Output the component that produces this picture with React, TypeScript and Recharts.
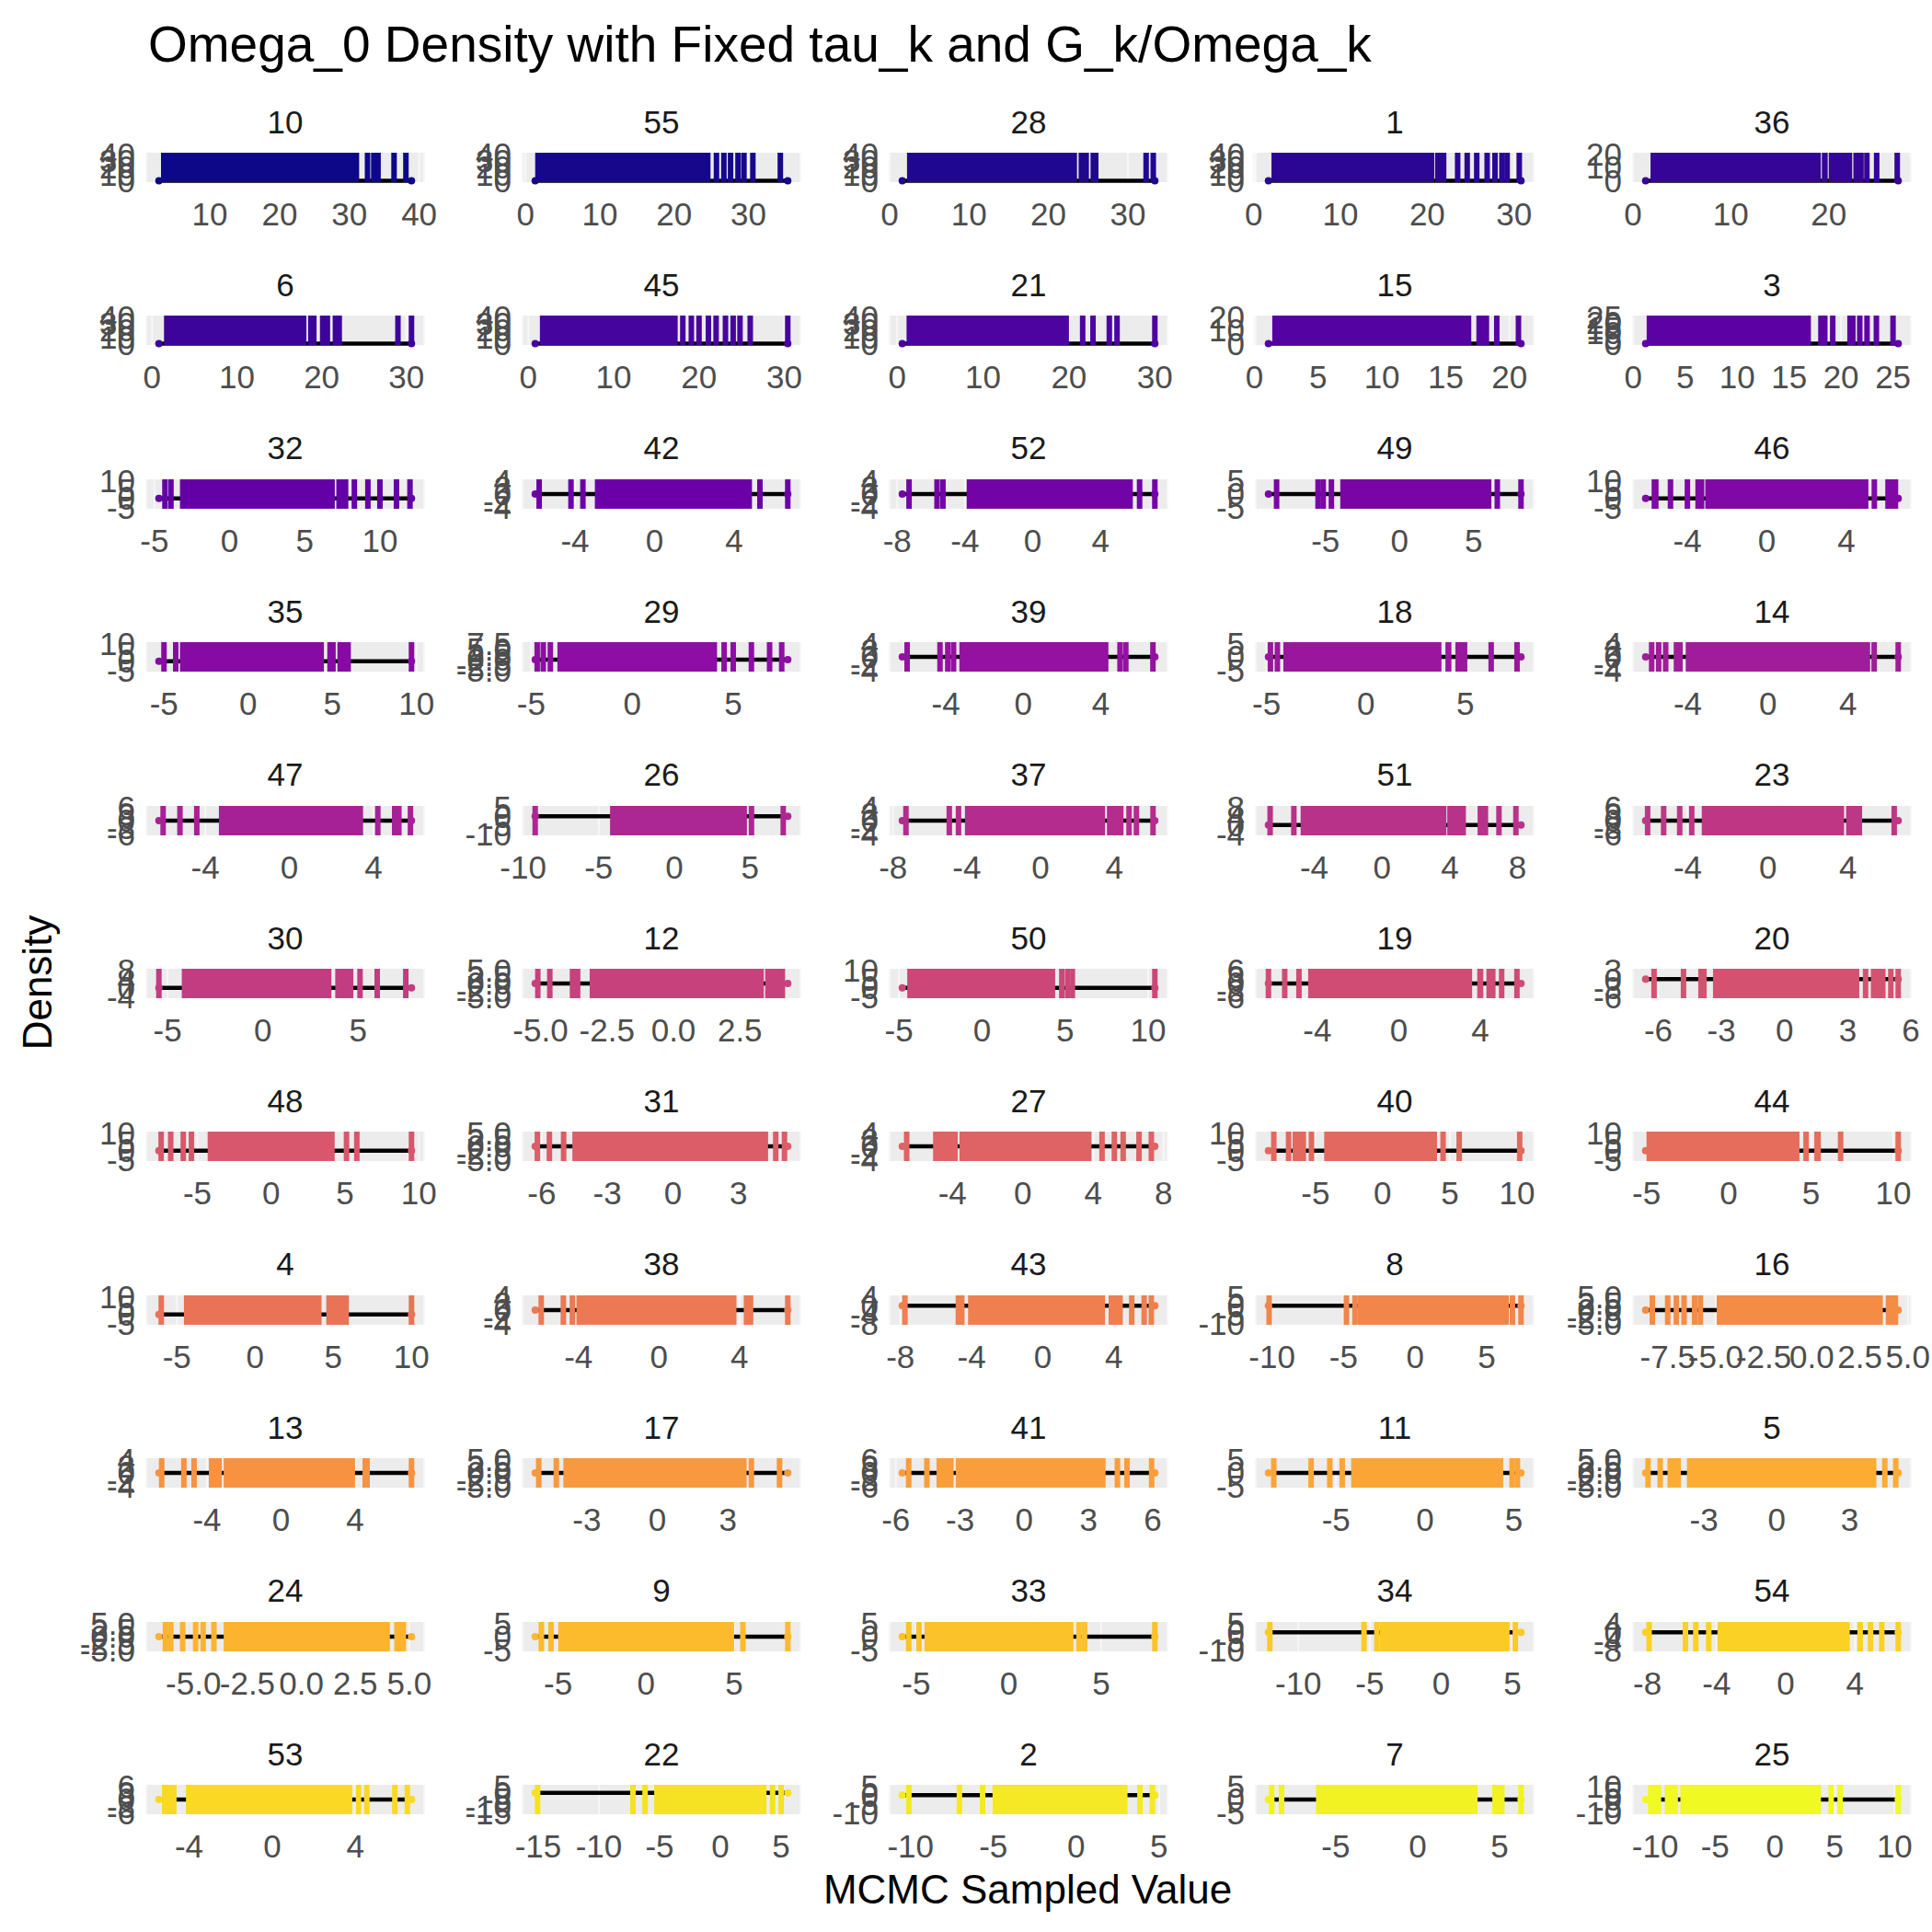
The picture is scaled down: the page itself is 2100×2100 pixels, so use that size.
import React from 'react'
import {
  ComposedChart,
  XAxis,
  YAxis,
  CartesianGrid,
  ReferenceArea,
  ReferenceLine,
  ReferenceDot,
} from 'recharts'

// facet labels, row by row (5 per row)
const facetIds = [
  10, 55, 28, 1, 36,
  6, 45, 21, 15, 3,
  32, 42, 52, 49, 46,
  35, 29, 39, 18, 14,
  47, 26, 37, 51, 23,
  30, 12, 50, 19, 20,
  48, 31, 27, 40, 44,
  4, 38, 43, 8, 16,
  13, 17, 41, 11, 5,
  24, 9, 33, 34, 54,
  53, 22, 2, 7, 25,
]

// x tick labels of each facet
const xTicks: number[][] = [
  [10, 20, 30, 40], [0, 10, 20, 30], [0, 10, 20, 30], [0, 10, 20, 30], [0, 10, 20],
  [0, 10, 20, 30], [0, 10, 20, 30], [0, 10, 20, 30], [0, 5, 10, 15, 20], [0, 5, 10, 15, 20, 25],
  [-5, 0, 5, 10], [-4, 0, 4], [-8, -4, 0, 4], [-5, 0, 5], [-4, 0, 4],
  [-5, 0, 5, 10], [-5, 0, 5], [-4, 0, 4], [-5, 0, 5], [-4, 0, 4],
  [-4, 0, 4], [-10, -5, 0, 5], [-8, -4, 0, 4], [-4, 0, 4, 8], [-4, 0, 4],
  [-5, 0, 5], [-5, -2.5, 0, 2.5], [-5, 0, 5, 10], [-4, 0, 4], [-6, -3, 0, 3, 6],
  [-5, 0, 5, 10], [-6, -3, 0, 3], [-4, 0, 4, 8], [-5, 0, 5, 10], [-5, 0, 5, 10],
  [-5, 0, 5, 10], [-4, 0, 4], [-8, -4, 0, 4], [-10, -5, 0, 5], [-7.5, -5, -2.5, 0, 2.5, 5],
  [-4, 0, 4], [-3, 0, 3], [-6, -3, 0, 3, 6], [-5, 0, 5], [-3, 0, 3],
  [-5, -2.5, 0, 2.5, 5], [-5, 0, 5], [-5, 0, 5], [-10, -5, 0, 5], [-8, -4, 0, 4],
  [-4, 0, 4], [-15, -10, -5, 0, 5], [-10, -5, 0, 5], [-5, 0, 5], [-10, -5, 0, 5, 10],
]

// y tick labels (density axis, squeezed)
const yTicks: number[][] = [
  [0, 10, 20, 30, 40], [0, 10, 20, 30, 40], [0, 10, 20, 30, 40], [0, 10, 20, 30, 40], [0, 10, 20],
  [0, 10, 20, 30, 40], [0, 10, 20, 30, 40], [0, 10, 20, 30, 40], [0, 10, 20], [0, 5, 10, 15, 20, 25],
  [-5, 0, 5, 10], [-4, -2, 0, 2, 4], [-4, -2, 0, 2, 4], [-5, 0, 5], [-5, 0, 5, 10],
  [-5, 0, 5, 10], [-5, -2.5, 0, 2.5, 5, 7.5], [-4, -2, 0, 2, 4], [-5, 0, 5], [-4, -2, 0, 2, 4],
  [-6, -3, 0, 3, 6], [-10, -5, 0, 5], [-4, -2, 0, 2, 4], [-4, 0, 4, 8], [-6, -3, 0, 3, 6],
  [-4, 0, 4, 8], [-5, -2.5, 0, 2.5, 5], [-5, 0, 5, 10], [-6, -3, 0, 3, 6], [-6, -3, 0, 3],
  [-5, 0, 5, 10], [-5, -2.5, 0, 2.5, 5], [-4, -2, 0, 2, 4], [-5, 0, 5, 10], [-5, 0, 5, 10],
  [-5, 0, 5, 10], [-4, -2, 0, 2, 4], [-8, -4, 0, 4], [-10, -5, 0, 5], [-5, -2.5, 0, 2.5, 5],
  [-4, -2, 0, 2, 4], [-5, -2.5, 0, 2.5, 5], [-6, -3, 0, 3, 6], [-5, 0, 5], [-5, -2.5, 0, 2.5, 5],
  [-5, -2.5, 0, 2.5, 5], [-5, 0, 5], [-5, 0, 5], [-10, -5, 0, 5], [-8, -4, 0, 4],
  [-6, -3, 0, 3, 6], [-15, -10, -5, 0, 5], [-10, -5, 0, 5], [-5, 0, 5], [-10, -5, 0, 5, 10],
]

// min / max sample of each facet (ends of the density line)
const spans: [number, number][] = [
  [2.7, 38.9], [1.3, 35.3], [1.6, 33.4], [1.7, 30.8], [1.3, 27.1],
  [0.8, 30.6], [0.8, 30.4], [0.6, 30.0], [1.1, 20.9], [1.2, 25.5],
  [-4.7, 12.1], [-6.0, 6.7], [-7.7, 7.2], [-8.85, 8.2], [-6.1, 6.6],
  [-5.3, 9.7], [-4.8, 7.7], [-6.25, 6.8], [-4.9, 7.8], [-6.1, 6.5],
  [-6.2, 5.8], [-9.2, 7.5], [-7.5, 6.2], [-6.7, 8.2], [-6.1, 6.5],
  [-5.45, 7.8], [-5.2, 4.3], [-4.8, 10.4], [-6.4, 6.0], [-6.6, 5.4],
  [-7.6, 9.5], [-6.3, 5.25], [-6.85, 7.5], [-8.5, 10.3], [-5.05, 10.3],
  [-6.15, 10.0], [-6.15, 6.4], [-7.9, 6.3], [-10.25, 7.4], [-8.65, 4.5],
  [-6.6, 7.05], [-5.2, 5.55], [-5.7, 6.1], [-8.8, 5.4], [-5.4, 5.0],
  [-6.6, 5.1], [-6.3, 8.05], [-5.75, 7.9], [-12.1, 5.6], [-8.1, 6.5],
  [-5.45, 6.7], [-15.25, 5.55], [-10.5, 4.75], [-9.1, 6.3], [-10.8, 10.3],
]

// dense stretches of the rug, where the ticks merge into one band
const blocks: [number, number][][] = [
  [[3.0, 31.4], [33.1, 34.5]], [[1.3, 24.9]], [[2.2, 23.6], [23.8, 25.1], [25.3, 26.3]], [[2.05, 20.8], [20.9, 22.2]], [[1.8, 19.2], [19.3, 19.9], [20.0, 22.4]],
  [[1.4, 18.2], [18.4, 19.4], [19.8, 21.0], [21.3, 22.4]], [[1.35, 17.5]], [[1.1, 20.0]], [[1.4, 17.0], [17.4, 18.4]], [[1.3, 17.1], [17.8, 18.7], [20.6, 21.4]],
  [[-3.3, 7.0], [7.1, 7.9]], [[-3.0, 4.9]], [[-3.9, 5.9]], [[-4.0, 6.2]], [[-5.8, -5.45], [-3.6, -3.15], [-3.1, 5.1], [5.95, 6.6]],
  [[-4.05, 4.5], [4.7, 5.2], [5.3, 6.1]], [[-3.7, 4.2]], [[-3.3, 4.4]], [[-4.15, 3.8], [4.0, 4.3], [4.5, 5.1]], [[-4.7, -4.25], [-4.1, 5.1]],
  [[-3.35, 3.5]], [[-4.25, 4.8]], [[-4.1, 3.5], [3.6, 4.5]], [[-4.8, 3.8], [3.85, 4.95]], [[-3.3, 3.8], [3.9, 4.7]],
  [[-4.25, 3.6], [3.8, 4.75]], [[-3.9, -3.5], [-3.15, 3.4], [3.45, 4.2]], [[-4.5, 4.4], [5.3, 5.6]], [[-4.45, 3.6], [3.85, 4.15], [4.3, 4.75]], [[-4.1, -3.7], [-3.4, 3.55], [4.1, 4.8]],
  [[-4.3, 4.3]], [[-4.6, 4.35]], [[-5.1, -3.7], [-3.6, 3.9]], [[-6.7, -5.7], [-4.35, 4.05]], [[-5.0, 4.3], [5.2, 5.6]],
  [[-4.55, 4.25], [4.55, 6.0]], [[-4.1, 3.85]], [[-4.9, -4.4], [-4.2, 3.5], [3.7, 4.5]], [[-4.0, 6.55]], [[-4.95, 3.7], [3.85, 4.5]],
  [[-3.9, -3.2], [-3.1, 4.0], [4.4, 4.8]], [[-4.0, 3.8]], [[-4.1, -3.3], [-3.2, 3.8]], [[-4.15, 4.4]], [[-4.5, -3.95], [-3.7, 4.1]],
  [[-3.6, 4.1], [4.3, 4.85]], [[-5.0, 5.0]], [[-4.55, 3.5]], [[-4.3, 4.8]], [[-3.95, 3.7]],
  [[-5.3, -4.6], [-4.15, 3.85]], [[-5.45, 3.8]], [[-5.05, 3.1]], [[-6.2, 3.65], [4.55, 5.3]], [[-10.6, -9.5], [-9.2, -8.1], [-7.9, 3.85]],
]

// isolated rug ticks
const rugs: number[][] = [
  [32.6, 36.4, 38.1], [25.7, 26.7, 27.6, 28.6, 29.4, 30.6, 34.3], [32.3, 33.2], [23.5, 24.6, 25.7, 26.9, 27.8, 28.6, 29.2, 30.6], [22.8, 23.3, 23.9, 24.9, 27.0],
  [29.0, 30.6], [18.1, 19.1, 20.0, 21.1, 22.0, 23.1, 24.0, 24.8, 26.0, 30.4], [21.6, 22.8, 24.7, 25.6, 30.0], [19.0, 20.7], [19.2, 21.8, 22.5, 23.4, 25.0],
  [-4.3, -3.9, 8.3, 9.2, 10.0, 11.1, 12.0], [-5.8, -4.2, -3.6, 5.3, 6.7], [-7.3, -5.65, -5.3, 6.3, 7.2], [-8.3, -5.5, -5.15, -4.6, 6.6, 8.2], [-4.85, -4.0, 5.4],
  [-5.0, -4.3, 9.7], [-4.7, -4.4, -4.05, 4.55, 5.0, 5.9, 6.8, 7.4], [-6.0, -4.3, -3.9, -3.6, 5.0, 5.3, 6.7], [-4.8, -4.45, 6.3, 7.6], [-5.8, -5.45, -5.1, 5.3, 6.5],
  [-6.0, -5.2, -4.4, 4.2, 5.0, 5.2, 5.75], [-9.2, 5.1, 7.2], [-7.3, -4.95, -4.45, 4.8, 5.2, 6.1], [-6.6, -5.2, 5.8, 6.1, 6.9, 7.9], [-6.0, -5.2, -4.4, -3.8, 6.3],
  [-5.45, 5.1, 6.0, 7.5], [-5.1, -4.65], [4.8, 5.15, 10.4], [-6.4, -5.6, -4.9, 5.05, 5.8], [-6.2, -4.8, 3.85, 5.05, 5.4],
  [-7.45, -6.8, -5.95, -5.4, 5.1, 5.8, 9.5], [-6.2, -5.65, -5.0, 4.7, 5.1], [-6.6, 4.5, 5.2, 5.7, 6.6, 7.3], [-8.1, -7.0, -5.3, 4.5, 5.7, 10.2], [4.7, 6.8, 10.3],
  [-6.0, 10.0], [-5.85, -4.75, -4.3, 4.35, 4.55, 6.4], [-7.75, 5.0, 5.7, 6.1], [-10.2, -4.8, -4.2, 6.8, 7.4], [-8.3, -7.5, -7.05, -6.65, -6.1, -5.8],
  [-6.45, -5.25, -4.7, 7.05], [-5.05, -4.3, 4.0, 5.2], [-5.4, -4.55, 4.35, 4.8, 5.95], [-8.5, -6.4, -5.35, -4.65, 4.9, 5.2], [-5.3, -4.8, 4.45, 4.9],
  [-6.3, -6.05, -5.5, -4.9, -4.55, -4.05], [-5.95, -5.4, 5.5, 8.05], [-5.4, -4.85, 3.8, 4.1, 7.9], [-12.0, -5.4, -4.5, 5.2], [-7.9, -5.8, -5.2, -4.45, 4.3, 4.9, 5.55, 6.5],
  [4.15, 4.55, 5.9, 6.5], [-15.05, -7.2, -6.2, 4.3, 5.0], [-10.1, -7.05, -5.65, 3.85, 4.6], [-8.9, -8.3, 6.3], [4.7, 5.45, 10.3],
]

const FONT = '"Liberation Sans", Arial, Helvetica, sans-serif'
const COL_X = [159, 568, 967, 1365, 1775]
const PANEL_W = 302
const PANEL_H = 32
const ROW_Y0 = 166
const ROW_STEP = 177.4
const Y_AXIS_W = 110
const TOP_PAD = 25
const X_AXIS_H = 60
const RIGHT_PAD = 40

const PLASMA = [
  '#0d0887', '#41049d', '#6a00a8', '#8f0da4', '#b12a90', '#cc4778',
  '#e16462', '#f2844b', '#fca636', '#fcce25', '#f0f921',
]

function plasma(t: number) {
  const pos = t * (PLASMA.length - 1)
  const i = Math.min(Math.floor(pos), PLASMA.length - 2)
  const f = pos - i
  const a = PLASMA[i], b = PLASMA[i + 1]
  const ch = (h: string, k: number) => parseInt(h.slice(1 + 2 * k, 3 + 2 * k), 16)
  const mix = [0, 1, 2].map((k) => Math.round(ch(a, k) + (ch(b, k) - ch(a, k)) * f))
  return '#' + mix.map((v) => v.toString(16).padStart(2, '0')).join('')
}

function fmt(ticks: number[]) {
  const dec = ticks.some((t) => !Number.isInteger(t))
  return (v: number) => (dec ? v.toFixed(1) : String(v))
}

function Panel({ i }: { i: number }) {
  const row = Math.floor(i / 5)
  const col = i % 5
  const color = plasma(i / (facetIds.length - 1))
  const [lo, hi] = spans[i]
  const pad = (hi - lo) * 0.05
  const yt = yTicks[i]
  const ylo = Math.min(...yt), yhi = Math.max(...yt)
  const ypad = (yhi - ylo) * 0.05
  const data = [{ x: lo, y: 0 }, { x: hi, y: 0 }]
  const left = COL_X[col] - Y_AXIS_W
  const top = ROW_Y0 + row * ROW_STEP - TOP_PAD
  const tickStyle = { fontSize: 35, fill: '#4d4d4d', fontFamily: FONT }

  return (
    <div style={{ position: 'absolute', left, top }}>
      <ComposedChart
        width={Y_AXIS_W + PANEL_W + RIGHT_PAD}
        height={TOP_PAD + PANEL_H + X_AXIS_H}
        data={data}
        margin={{ top: TOP_PAD, right: RIGHT_PAD, bottom: 0, left: 0 }}
      >
        <CartesianGrid fill="#ececec" horizontal={false} stroke="#f7f7f7" strokeWidth={2} />
        <XAxis
          dataKey="x"
          type="number"
          domain={[lo - pad, hi + pad]}
          allowDataOverflow
          ticks={xTicks[i]}
          interval={0}
          tickFormatter={fmt(xTicks[i])}
          tick={tickStyle}
          tickLine={false}
          axisLine={false}
          tickMargin={16}
          height={X_AXIS_H}
        />
        <YAxis
          type="number"
          domain={[ylo - ypad, yhi + ypad]}
          allowDataOverflow
          ticks={yt}
          interval={0}
          tickFormatter={fmt(yt)}
          tick={tickStyle}
          tickLine={false}
          axisLine={false}
          tickMargin={6}
          width={Y_AXIS_W}
        />
        <ReferenceLine
          segment={[{ x: lo, y: 0 }, { x: hi, y: 0 }]}
          stroke="#000"
          strokeWidth={4.5}
          zIndex={300}
        />
        <ReferenceDot x={lo} y={0} r={4} fill={color} stroke="none" zIndex={310} />
        <ReferenceDot x={hi} y={0} r={4} fill={color} stroke="none" zIndex={310} />
        {blocks[i].map(([a, b], k) => (
          <ReferenceArea key={`b${k}`} x1={a} x2={b} fill={color} fillOpacity={1} stroke="none" zIndex={400} />
        ))}
        {rugs[i].map((v, k) => (
          <ReferenceLine key={`r${k}`} x={v} stroke={color} strokeWidth={6} zIndex={400} />
        ))}
      </ComposedChart>
    </div>
  )
}

export default function App() {
  return (
    <div
      style={{
        position: 'absolute',
        left: 0,
        top: 0,
        width: 2100,
        height: 2100,
        background: '#fff',
        overflow: 'hidden',
        fontFamily: FONT,
      }}
    >
      <svg width={2100} height={2100} style={{ position: 'absolute', left: 0, top: 0 }}>
        <text x={161} y={67} fontSize={55} fill="#000" fontFamily={FONT}>
          Omega_0 Density with Fixed tau_k and G_k/Omega_k
        </text>
        <text x={1117} y={2069} fontSize={44} fill="#000" textAnchor="middle" fontFamily={FONT}>
          MCMC Sampled Value
        </text>
        <text
          x={56}
          y={1068}
          fontSize={44}
          fill="#000"
          textAnchor="middle"
          fontFamily={FONT}
          transform="rotate(-90 56 1068)"
        >
          Density
        </text>
        {facetIds.map((id, i) => (
          <text
            key={id}
            x={COL_X[i % 5] + PANEL_W / 2}
            y={ROW_Y0 + Math.floor(i / 5) * ROW_STEP - 21.5}
            fontSize={35}
            fill="#1a1a1a"
            textAnchor="middle"
            fontFamily={FONT}
          >
            {id}
          </text>
        ))}
      </svg>
      {facetIds.map((id, i) => (
        <Panel key={id} i={i} />
      ))}
    </div>
  )
}
